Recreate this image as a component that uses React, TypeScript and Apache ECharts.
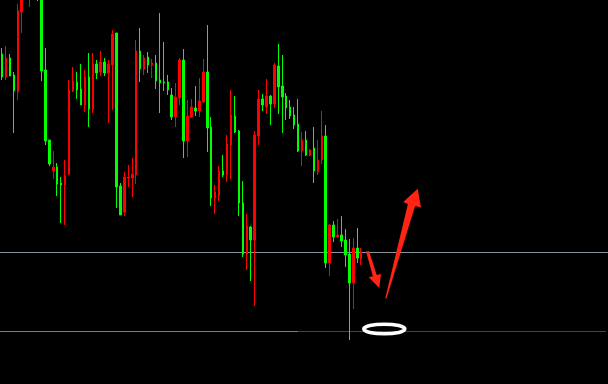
import React, { useEffect, useRef } from "react";
import * as echarts from "echarts";

// Bar slots on the time axis (the right part is left empty for annotations)
const barCount = 154;
const categories: string[] = Array.from({ length: barCount }, (_, i) => `K${i + 1}`);

// OHLC prices per bar
const opens = [
  346, 323, 342, 325, 308, 388, 418, 405, 465, 440,
  425, 330, 260, 229, 233, 217, 215, 226, 309, 318,
  311, 295, 323, 291, 336, 328, 338, 327, 335, 367,
  214, 188, 222, 222, 225, 349, 331, 343, 335, 337,
  320, 318, 318, 305, 283, 302, 340, 259, 283, 292,
  289, 298, 328, 273, 202, 204, 229, 225, 255, 284,
  269, 197, 146, 173, 160, 264, 301, 293, 304, 296,
  334, 314, 304, 293, 285, 276, 249, 260, 245, 252,
  228, 240, 264, 137, 175, 163, 165, 160, 146, 117,
  152, 141,
];
const closes = [
  323, 342, 324, 309, 389, 415, 445, 460, 430, 410,
  329, 259, 236, 233, 216, 215, 224, 310, 319, 310,
  295, 323, 291, 336, 327, 338, 327, 336, 366, 213,
  185, 223, 223, 226, 349, 331, 342, 335, 337, 319,
  317, 317, 310, 283, 303, 340, 259, 284, 293, 289,
  299, 328, 272, 202, 208, 229, 225, 256, 285, 268,
  197, 146, 174, 160, 265, 301, 295, 304, 296, 335,
  313, 303, 292, 284, 275, 249, 260, 245, 250, 229,
  240, 264, 137, 175, 163, 165, 159, 145, 117, 152,
  142, 148,
];
const lows = [
  320, 320, 324, 267, 300, 367, 405, 393, 408, 399,
  319, 255, 234, 221, 204, 177, 175, 225, 308, 301,
  295, 288, 273, 287, 321, 324, 324, 277, 290, 192,
  185, 184, 213, 203, 216, 318, 325, 327, 322, 311,
  287, 309, 305, 280, 273, 295, 242, 243, 282, 284,
  283, 297, 248, 194, 186, 199, 223, 218, 221, 267,
  184, 143, 130, 119, 94, 255, 289, 286, 275, 292,
  286, 267, 280, 281, 271, 248, 234, 244, 244, 217,
  225, 236, 132, 124, 158, 162, 153, 133, 60, 91,
  137, 135,
];
const highs = [
  352, 354, 346, 328, 396, 420, 450, 470, 475, 450,
  430, 352, 260, 249, 237, 223, 240, 320, 333, 328,
  336, 330, 347, 347, 340, 349, 342, 340, 370, 367,
  217, 228, 235, 242, 360, 372, 345, 348, 341, 345,
  387, 358, 325, 312, 317, 342, 351, 300, 301, 314,
  322, 341, 375, 283, 215, 234, 245, 265, 310, 304,
  270, 219, 186, 174, 269, 310, 306, 321, 305, 337,
  356, 345, 307, 300, 293, 301, 268, 269, 251, 273,
  260, 289, 275, 176, 179, 181, 184, 171, 161, 162,
  172, 152,
];

// Horizontal price levels
const resistanceLevel = 147.5;
const bottomLevel = 68.5;
// Bar index where the highlighted part of the bottom level begins
const bottomHighlightFrom = 75;

const priceMin = 16;
const priceMax = 400;

const UP = "#ff0000";
const DOWN = "#00ff00";
const ARROW = "#ff2414";

export default function App() {
  const ref = useRef<HTMLDivElement | null>(null);

  useEffect(() => {
    if (!ref.current) return;
    const chart = echarts.init(ref.current, undefined, { renderer: "svg" });

    const candles = opens.map((o, i) => [o, closes[i], lows[i], highs[i]]);

    chart.setOption({
      animation: false,
      backgroundColor: "#000000",
      grid: { left: -2.5, top: 0, width: barCount * 4, height: 384 },
      xAxis: {
        type: "category",
        data: categories,
        boundaryGap: true,
        show: false,
      },
      yAxis: {
        type: "value",
        min: priceMin,
        max: priceMax,
        show: false,
        splitLine: { show: false },
      },
      series: [
        {
          type: "candlestick",
          z: 3,
          data: candles,
          barWidth: 2,
          clip: true,
          itemStyle: {
            color: UP,
            color0: DOWN,
            borderColor: UP,
            borderColor0: DOWN,
            borderWidth: 1,
          },
          markLine: {
            z: 1,
            silent: true,
            symbol: "none",
            animation: false,
            label: { show: false },
            data: [
              { yAxis: resistanceLevel, lineStyle: { color: "#8593a1", width: 1, type: "solid" } },
              [
                { coord: [0, bottomLevel], x: 0, lineStyle: { color: "#7d7d7d", width: 1, type: "solid" } },
                { coord: [bottomHighlightFrom, bottomLevel] },
              ],
              [
                { coord: [bottomHighlightFrom, bottomLevel], lineStyle: { color: "#e00000", width: 1, type: "solid" } },
                { coord: [barCount - 1, bottomLevel] },
              ],
            ],
          },
        },
      ],
      graphic: [
        {
          type: "polygon",
          z: 20,
          shape: {
            points: [
              [366, 251.5], [369, 251], [376.7, 274.9], [381, 274],
              [379.3, 288], [368.7, 277.3], [372.9, 276.2],
            ],
          },
          style: { fill: ARROW },
        },
        {
          type: "polygon",
          z: 20,
          shape: {
            points: [
              [385.2, 298.6], [386.6, 298.2], [415.1, 206.1], [421, 207.5],
              [417.7, 188.8], [403.2, 202], [407.9, 203.9],
            ],
          },
          style: { fill: ARROW },
        },
        {
          type: "ellipse",
          z: 20,
          shape: { cx: 384.3, cy: 329, rx: 20.5, ry: 4.8 },
          style: { fill: "none", stroke: "#ffffff", lineWidth: 3.6 },
        },
      ],
    });

    return () => chart.dispose();
  }, []);

  return (
    <div
      ref={ref}
      style={{ position: "absolute", left: 0, top: 0, width: 608, height: 384 }}
    />
  );
}
